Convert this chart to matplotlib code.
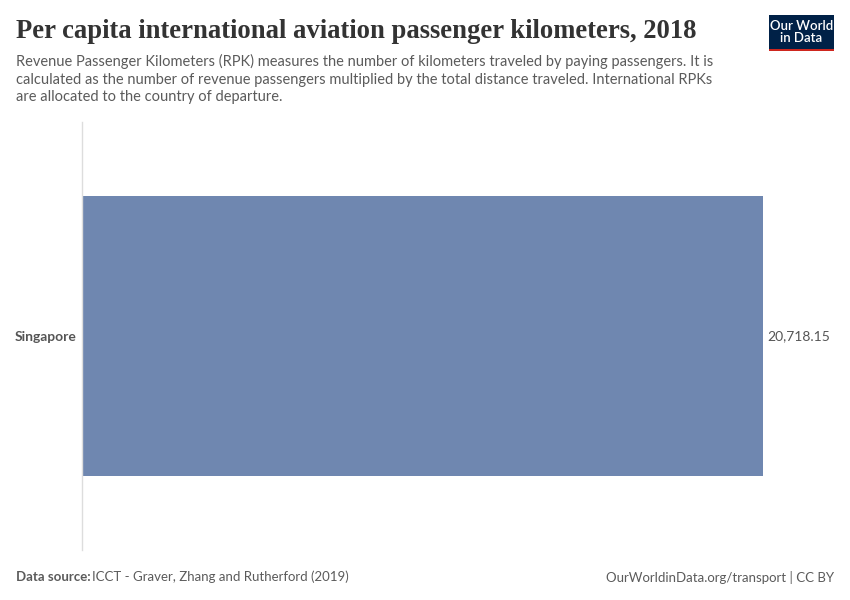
import matplotlib
matplotlib.use("Agg")
import matplotlib.pyplot as plt
from matplotlib.patches import Rectangle

countries = ["Singapore"]
values = [20718.15]
value_labels = ["20,718.15"]

fig = plt.figure(figsize=(8.5, 6), dpi=100)
fig.patch.set_facecolor("white")

ax = fig.add_axes([82/850, 50/600, 681/850, 428/600])
ax.barh(countries, values, height=0.654, color="#6f87b0", edgecolor="none")
ax.set_ylim(-0.5, 0.5)
ax.set_xlim(0, max(values))
for s in ["top", "right", "bottom"]:
    ax.spines[s].set_visible(False)
ax.spines["left"].set_color("#dddddd")
ax.spines["left"].set_linewidth(1)
ax.set_xticks([])
ax.tick_params(axis="y", length=0, pad=4)
for lbl in ax.get_yticklabels():
    lbl.set_fontfamily("Lato")
    lbl.set_fontweight("bold")
    lbl.set_fontsize(10)
    lbl.set_color("#555555")
for i, (v, t) in enumerate(zip(values, value_labels)):
    ax.text(v + max(values)*0.006, i, t, va="center", ha="left", fontsize=10,
            color="#555555", family="Lato", clip_on=False)

title = fig.text(16/850, 1 - 31/600, "Per capita international aviation passenger kilometers, 2018",
                 fontsize=18, family="Liberation Serif", fontweight="bold", color="#333333",
                 va="center", ha="left")
fig.canvas.draw()
w = title.get_window_extent().width
title.set_fontsize(18 * 679 / w)

fig.text(16/850, 1 - 79/600,
         "Revenue Passenger Kilometers (RPK) measures the number of kilometers traveled by paying passengers. It is\n"
         "calculated as the number of revenue passengers multiplied by the total distance traveled. International RPKs\n"
         "are allocated to the country of departure.",
         fontsize=10.5, family="Lato", color="#5b5b5b", va="center", ha="left", linespacing=1.3)

fig.text(16/850, 1 - 577/600, "Data source: ", fontsize=9.5, family="Lato", fontweight="bold",
         color="#5b5b5b", va="center", ha="left")
fig.text(92/850, 1 - 577/600, "ICCT - Graver, Zhang and Rutherford (2019)", fontsize=9.5, family="Lato",
         color="#5b5b5b", va="center", ha="left")
fig.text(834/850, 1 - 577/600, "OurWorldinData.org/transport | CC BY", fontsize=9.5, family="Lato",
         color="#5b5b5b", va="center", ha="right")

# logo
fig.patches.append(Rectangle((769/850, 1 - 51/600), 65/850, 36/600, transform=fig.transFigure,
                             facecolor="#002147", edgecolor="none"))
fig.patches.append(Rectangle((769/850, 1 - 51/600), 65/850, 2.5/600, transform=fig.transFigure,
                             facecolor="#ce261e", edgecolor="none"))
fig.text(801.5/850, 1 - 32/600, "Our World\nin Data", fontsize=9.5, family="Lato", fontweight="semibold",
         color="white", ha="center", va="center", linespacing=0.95)

fig.savefig("out.png", dpi=100)
